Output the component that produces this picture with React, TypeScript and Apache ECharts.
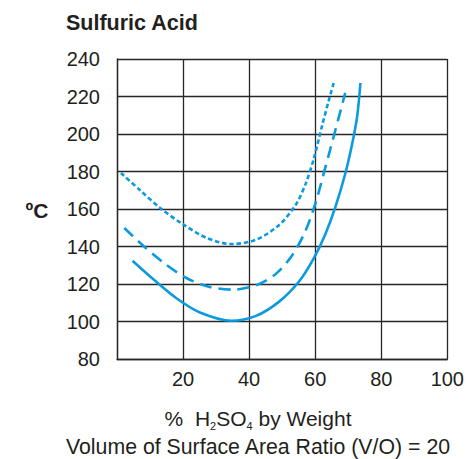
import React, { useEffect, useRef } from "react";
import * as echarts from "echarts";

const xTicks = [0, 20, 40, 60, 80, 100];
const yTicks = [80, 100, 120, 140, 160, 180, 200, 220, 240];

const dottedCurve: [number, number][] = [
  [1.2, 179.2], [7.0, 170.0], [13.0, 160.6], [20.0, 151.8], [27.1, 144.6],
  [34.6, 141.3], [42.1, 143.6], [49.1, 151.5], [54.1, 162.2], [57.1, 173.4],
  [59.6, 187.0], [62.1, 204.5], [64.1, 217.8], [65.6, 227.2],
];
const dashedCurve: [number, number][] = [
  [2.2, 149.9], [8.0, 140.3], [14.0, 131.5], [21.0, 123.2], [28.1, 118.4],
  [35.1, 117.0], [42.1, 119.3], [48.1, 125.4], [53.1, 135.5], [57.1, 148.5],
  [60.1, 163.2], [63.1, 182.3], [66.1, 202.0], [69.1, 221.9],
];
const solidCurve: [number, number][] = [
  [4.7, 132.4], [11.0, 122.5], [18.0, 112.4], [25.1, 104.8], [34.6, 100.4],
  [42.1, 103.0], [49.1, 110.6], [55.1, 121.3], [59.6, 133.8], [63.1, 146.7],
  [66.1, 161.0], [69.1, 178.8], [71.2, 194.8], [72.7, 209.4], [73.7, 227.2],
];

const title = "Sulfuric Acid";
const yName = "ºC";
const xNameLine2 = "Volume of Surface Area Ratio (V/O) = 20";

const FONT = "'Liberation Sans', Arial, Helvetica, sans-serif";
const BLUE = "#0a9ade";
const GRID = "#2a2627";
const TXT = "#231f20";

export default function App() {
  const ref = useRef<HTMLDivElement>(null);
  useEffect(() => {
    if (!ref.current) return;
    const chart = echarts.init(ref.current, undefined, { renderer: "svg" });
    const lineBase = {
      type: "line",
      smooth: 0.3,
      showSymbol: false,
      symbol: "none",
      silent: true,
    };
    chart.setOption({
      animation: false,
      grid: { left: 117, right: 18, top: 59, bottom: 100, containLabel: false },
      xAxis: {
        type: "value",
        min: xTicks[0],
        max: xTicks[xTicks.length - 1],
        interval: 20,
        axisLine: { show: true, lineStyle: { color: GRID, width: 1.3 } },
        axisTick: { show: false },
        splitLine: { show: true, lineStyle: { color: GRID, width: 1.3 } },
        axisLabel: {
          showMinLabel: false,
          margin: 10,
          fontSize: 20,
          fontFamily: FONT,
          color: TXT,
        },
      },
      yAxis: {
        type: "value",
        min: yTicks[0],
        max: yTicks[yTicks.length - 1],
        interval: 20,
        axisLine: { show: true, lineStyle: { color: GRID, width: 1.3 } },
        axisTick: { show: false },
        splitLine: { show: true, lineStyle: { color: GRID, width: 1.3 } },
        axisLabel: { margin: 17, fontSize: 20, fontFamily: FONT, color: TXT },
      },
      series: [
        { ...lineBase, data: dottedCurve, lineStyle: { color: BLUE, width: 2.6, type: [4.5, 2.8] } },
        { ...lineBase, data: dashedCurve, lineStyle: { color: BLUE, width: 2.6, type: [12, 7] } },
        { ...lineBase, data: solidCurve, lineStyle: { color: BLUE, width: 2.6, type: "solid" } },
      ],
      graphic: [
        {
          type: "text",
          x: 66,
          y: 23,
          style: {
            text: title,
            fontSize: 21.5,
            fontWeight: "bold",
            fontFamily: FONT,
            fill: TXT,
            verticalAlign: "middle",
            align: "left",
          },
        },
        {
          type: "text",
          x: 37,
          y: 210,
          style: {
            text: yName,
            fontSize: 21,
            fontWeight: "bold",
            fontFamily: FONT,
            fill: TXT,
            verticalAlign: "middle",
            align: "center",
          },
        },
        {
          type: "text",
          x: 258,
          y: 420,
          style: {
            text: "{a|%  H}{s|2}{a|SO}{s|4}{a| by Weight}",
            align: "center",
            verticalAlign: "middle",
            fill: TXT,
            rich: {
              a: { fontSize: 21, fontFamily: FONT, fill: TXT, lineHeight: 22, padding: [0, 0, 2, 0], verticalAlign: "bottom" },
              s: { fontSize: 11, fontFamily: FONT, fill: TXT, lineHeight: 12, verticalAlign: "bottom" },
            },
          },
        },
        {
          type: "text",
          x: 258,
          y: 447,
          style: {
            text: xNameLine2,
            fontSize: 21.3,
            fontFamily: FONT,
            fill: TXT,
            verticalAlign: "middle",
            align: "center",
          },
        },
      ],
    });
    return () => chart.dispose();
  }, []);
  return <div ref={ref} style={{ width: 467, height: 459, position: "absolute", left: 0, top: 0 }} />;
}
